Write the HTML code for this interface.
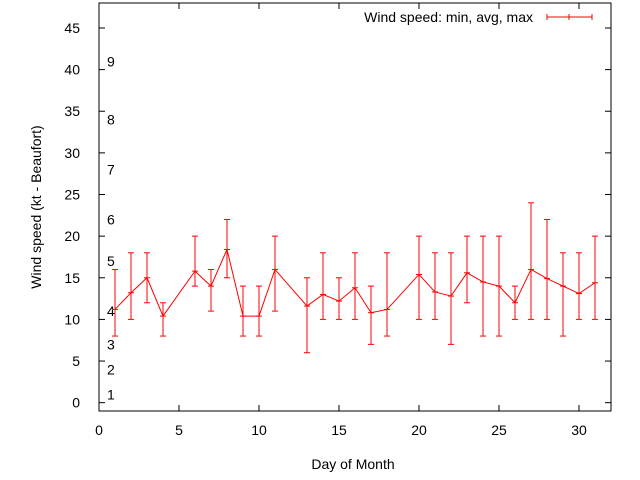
<!DOCTYPE html>
<html><head><meta charset="utf-8"><style>body{margin:0;background:#fff}svg{display:block;font-family:"Liberation Sans",sans-serif}</style></head>
<body>
<svg id="chart" width="640" height="480" xmlns="http://www.w3.org/2000/svg"></svg>
<script>
const days=[1,2,3,4,6,7,8,9,10,11,13,14,15,16,17,18,20,21,22,23,24,25,26,27,28,29,30,31];
const avgs=[11.2,13.2,15.0,10.4,15.8,14.0,18.4,10.4,10.4,16.0,11.6,13.0,12.2,13.8,10.8,11.2,15.4,13.3,12.8,15.6,14.5,14.0,12.0,16.0,14.9,14.0,13.1,14.4];
const mins=[8,10,12,8,14,11,15,8,8,11,6,10,10,10,7,8,10,10,7,12,8,8,10,10,10,8,10,10];
const maxs=[16,18,18,12,20,16,22,14,14,20,15,18,15,18,14,18,20,18,18,20,20,20,14,24,22,18,18,20];
const xTicks=[0,5,10,15,20,25,30];
const yTicks=[0,5,10,15,20,25,30,35,40,45];
const beaufortLabels=["1","2","3","4","5","6","7","8","9"];
const beaufortKt=[1,4,7,11,17,22,28,34,41];
const X0=99,X1=611,Y0=411,Y1=3,xmin=0,xmax=32,ymin=-1,ymax=48;
const sx=v=>X0+(v-xmin)/(xmax-xmin)*(X1-X0);
const sy=v=>Y0-(v-ymin)/(ymax-ymin)*(Y0-Y1);
const svg=document.getElementById('chart');
const NS='http://www.w3.org/2000/svg';
function mk(tag,attrs,parent){const e=document.createElementNS(NS,tag);for(const k in attrs)e.setAttribute(k,attrs[k]);(parent||svg).appendChild(e);return e;}
function ln(x1,y1,x2,y2,c,p){return mk('line',{x1,y1,x2,y2,stroke:c,'stroke-width':1},p);}
function tx(x,y,s,anchor,p){const t=mk('text',{x,y,'font-size':14,'text-anchor':anchor,fill:'#000'},p);t.textContent=s;return t;}
// frame
const fr=mk('rect',{x:X0,y:Y1,width:X1-X0,height:Y0-Y1,fill:'none',stroke:'#000','stroke-width':1});


const xa=mk('g',{});


xTicks.forEach(v=>{const x=sx(v);ln(x,Y0,x,Y0-6,'#000',xa);ln(x,Y1,x,Y1+6,'#000',xa);const t=tx(x,Y0+24,String(v),'middle',xa);

});
const ya=mk('g',{});


yTicks.forEach(v=>{const y=sy(v);ln(X0,y,X0+6,y,'#000',ya);ln(X1,y,X1-6,y,'#000',ya);const t=tx(X0-19,y+5,String(v),'end',ya);

});
const bg=mk('g',{});


beaufortLabels.forEach((s,i)=>{const t=tx(107,sy(beaufortKt[i])+5,s,'start',bg);

});
const xt=tx(353,469,'Day of Month','middle');


const yt=tx(0,0,'Wind speed (kt - Beaufort)','middle');
yt.setAttribute('transform','translate(41,207) rotate(-90)');


// series
const sg=mk('g',{});


const pl=mk('polyline',{points:days.map((d,i)=>sx(d)+','+sy(avgs[i])).join(' '),fill:'none',stroke:'#f00','stroke-width':1},sg);


days.forEach((d,i)=>{const x=sx(d);const g=mk('g',{},sg);


ln(x,sy(mins[i]),x,sy(maxs[i]),'#f00',g);ln(x-3,sy(mins[i]),x+3,sy(mins[i]),'#f00',g);ln(x-3,sy(maxs[i]),x+3,sy(maxs[i]),'#f00',g);ln(x-3,sy(avgs[i]),x+3,sy(avgs[i]),'#f00',g);});
// legend
const lg=mk('g',{});


tx(533,22,'Wind speed: min, avg, max','end',lg);
ln(547,17,592,17,'#f00',lg);ln(547,14,547,20,'#f00',lg);ln(592,14,592,20,'#f00',lg);ln(569,14,569,20,'#f00',lg);
</script>
</body></html>
